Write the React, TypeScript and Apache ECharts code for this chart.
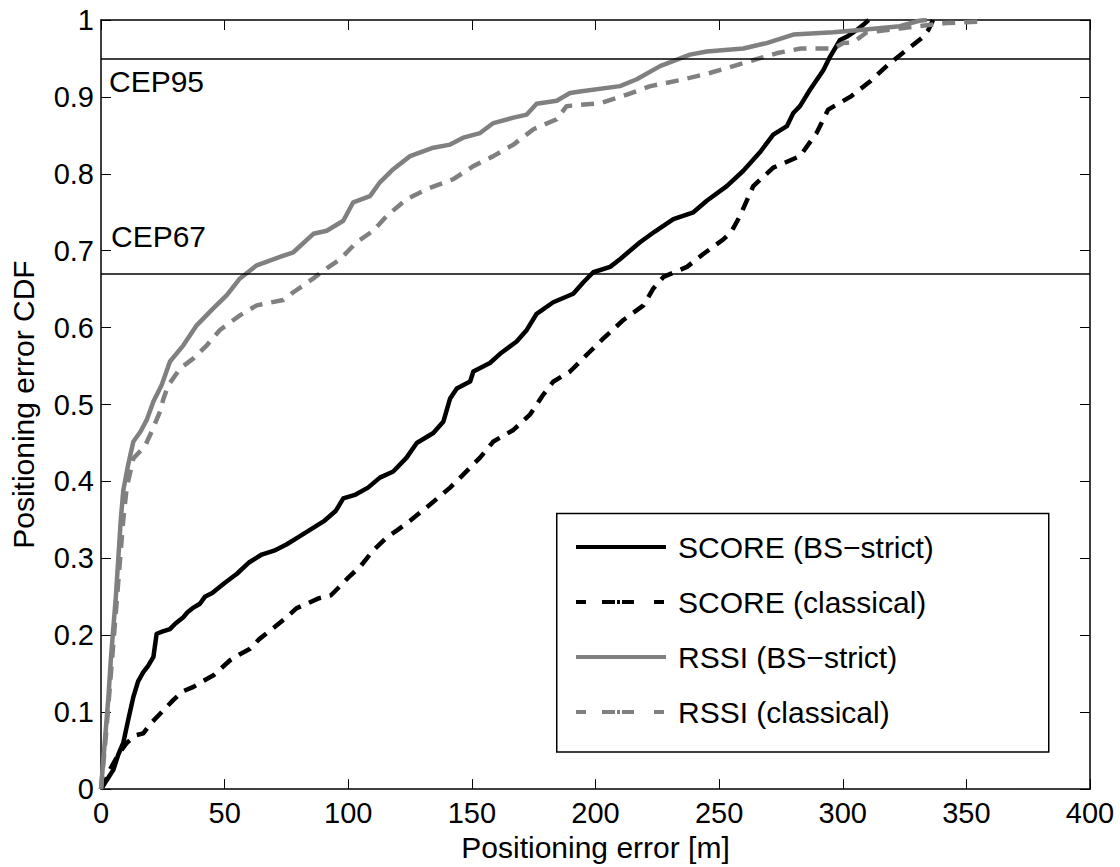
import React, { useEffect, useRef } from "react";
import * as echarts from "echarts";

const FONT = "'Liberation Sans', Arial, Helvetica, sans-serif";

const seriesNames = [
  "SCORE (BS\u2212strict)",
  "SCORE (classical)",
  "RSSI (BS\u2212strict)",
  "RSSI (classical)",
];

const X_MIN = 0;
const X_MAX = 400;
const X_STEP = 50;
const Y_MIN = 0;
const Y_MAX = 1;
const Y_STEP = 0.1;

const xTitle = "Positioning error [m]";
const yTitle = "Positioning error CDF";

const cepLevels = [0.95, 0.67];
const cepLabels = ["CEP95", "CEP67"];

const scoreStrict = [
  [0, 0], [1, 0.005], [3, 0.015], [5, 0.025], [7, 0.045], [9, 0.06], [11, 0.09], [13.1, 0.12],
  [15, 0.14], [17.1, 0.152], [19, 0.16], [21.2, 0.172], [22.5, 0.202], [25, 0.205], [27.9, 0.208],
  [30, 0.215], [33.3, 0.2235], [35, 0.23], [37.4, 0.236], [40, 0.241], [42, 0.25], [45, 0.255],
  [50, 0.268], [55, 0.28], [60, 0.295], [65, 0.305], [70, 0.31], [75, 0.318], [80, 0.328],
  [85, 0.338], [90, 0.348], [95, 0.362], [98, 0.378], [103, 0.383], [108, 0.392], [112.8, 0.405],
  [118.2, 0.413], [123.6, 0.431], [127.7, 0.45], [134.4, 0.463], [138.5, 0.478], [141.2, 0.508],
  [143.9, 0.521], [149.3, 0.53], [150.6, 0.543], [157.3, 0.554], [161.4, 0.566], [168.1, 0.582],
  [172.2, 0.597], [176.2, 0.618], [182.9, 0.633], [191, 0.644], [195.1, 0.659], [199.1, 0.672],
  [205.9, 0.679], [209.9, 0.689], [218, 0.711], [224, 0.725], [231.5, 0.741], [239.6, 0.75],
  [245, 0.765], [253.1, 0.784], [259.8, 0.804], [266.5, 0.828], [271.9, 0.851], [277.4, 0.862],
  [280, 0.879], [282.7, 0.888], [286.7, 0.909], [292.2, 0.935], [294.9, 0.9525], [298.9, 0.974],
  [302, 0.979], [305.7, 0.987], [308.4, 0.994], [310.5, 1],
];

const scoreClassical = [
  [0, 0], [2, 0.012], [3.6, 0.025], [7, 0.045], [10.4, 0.06], [14, 0.07], [17.1, 0.0725],
  [20, 0.085], [23.9, 0.098], [29.3, 0.116], [33, 0.127], [37.4, 0.133], [41, 0.14], [45.5, 0.148],
  [52.2, 0.1675], [56, 0.175], [60.3, 0.1825], [64, 0.195], [68.4, 0.206], [75.1, 0.2235],
  [79, 0.235], [83.2, 0.241], [88, 0.248], [93, 0.252], [97, 0.265], [100, 0.275], [105, 0.29],
  [110, 0.31], [115.5, 0.327], [120, 0.337], [125, 0.349], [133.1, 0.37], [141.2, 0.392],
  [146.5, 0.409], [153.3, 0.431], [158.7, 0.452], [166.8, 0.467], [173.5, 0.487], [178.9, 0.513],
  [183, 0.53], [189.7, 0.543], [197.8, 0.569], [203.2, 0.586], [211.3, 0.61], [219.4, 0.629],
  [223.4, 0.651], [227.5, 0.666], [237, 0.679], [243.7, 0.696], [251.8, 0.715], [255, 0.725],
  [258.4, 0.745], [263.8, 0.784], [271.9, 0.808], [277, 0.815], [282.7, 0.823], [289.4, 0.853],
  [294.1, 0.8835], [303, 0.9], [311, 0.92], [318.4, 0.942], [325.8, 0.961], [332.5, 0.978],
  [334.6, 0.987], [336.5, 1],
];

const rssiStrict = [
  [0, 0], [1, 0.04], [2, 0.08], [3, 0.12], [4, 0.17], [5, 0.21], [6, 0.25], [7, 0.3], [8, 0.35],
  [9, 0.388], [11, 0.422], [13.1, 0.452], [16, 0.465], [18.5, 0.48], [21.2, 0.504], [24.5, 0.525],
  [27.9, 0.556], [33.3, 0.577], [38.7, 0.603], [45.4, 0.625], [50.8, 0.642], [56.2, 0.664],
  [63, 0.681], [72.4, 0.692], [77.8, 0.698], [85.9, 0.722], [91.3, 0.726], [98, 0.739],
  [102, 0.763], [108.8, 0.771], [112.8, 0.789], [118.2, 0.806], [125, 0.823], [134.4, 0.834],
  [141.2, 0.838], [146.5, 0.847], [153.3, 0.853], [158.7, 0.866], [166.8, 0.873], [172.2, 0.877],
  [176.2, 0.891], [184.3, 0.895], [189.7, 0.905], [193.7, 0.907], [209.9, 0.914], [216.7, 0.923],
  [226.1, 0.94], [238.2, 0.955], [245, 0.959], [259.8, 0.963], [269.2, 0.97], [280, 0.981],
  [296.2, 0.984], [307, 0.987], [323.1, 0.992], [331, 0.999], [334, 1],
];

const rssiClassical = [
  [0, 0], [1, 0.035], [2, 0.07], [3, 0.11], [4, 0.15], [5, 0.19], [6, 0.23], [7, 0.27], [8, 0.31],
  [9, 0.35], [10.4, 0.392], [13.1, 0.43], [17.8, 0.446], [20.5, 0.465], [23.9, 0.491], [25.3, 0.508],
  [27.2, 0.525], [32, 0.547], [37.4, 0.56], [42.8, 0.577], [48.1, 0.597], [56.2, 0.616], [63, 0.629],
  [73.7, 0.636], [77.8, 0.646], [85.9, 0.664], [89.9, 0.674], [96.7, 0.689], [103.4, 0.711],
  [110.1, 0.726], [115.5, 0.745], [123.6, 0.767], [131.7, 0.78], [142.5, 0.793], [150.6, 0.81],
  [158.7, 0.823], [166.8, 0.838], [174.9, 0.858], [184.3, 0.871], [188.3, 0.888], [202, 0.892],
  [212.7, 0.903], [222.2, 0.914], [234.3, 0.922], [245, 0.93], [255.8, 0.94], [264, 0.948],
  [273.5, 0.957], [283, 0.963], [296.2, 0.963], [300.2, 0.97], [304.3, 0.971], [309.7, 0.984],
  [323.1, 0.989], [342, 0.996], [355.5, 0.998], [357, 1],
];

const seriesData = [scoreStrict, scoreClassical, rssiStrict, rssiClassical];
const seriesColors = ["#000000", "#000000", "#808080", "#808080"];
const DASH = [13, 9];
const LEGEND_DASH = [10, 16, 13, 2, 3, 2, 12, 20];
const seriesDashed = [false, true, false, true];

export default function App() {
  const ref = useRef<HTMLDivElement>(null);

  useEffect(() => {
    document.body.style.margin = "0";
    if (!ref.current) return;
    const chart = echarts.init(ref.current, undefined, { renderer: "svg" });

    const axisLine = { show: true, onZero: false, lineStyle: { color: "#000", width: 1.5 } };
    const tickIn = { show: true, inside: true, length: 10, lineStyle: { color: "#000", width: 1 } };
    const tickFont = { fontSize: 29, color: "#000", fontFamily: FONT };
    const bigFont = { fontSize: 30, color: "#000", fontFamily: FONT };

    const series: any[] = seriesData.map((d, i) => ({
      name: seriesNames[i],
      type: "line",
      data: d,
      symbol: "none",
      showSymbol: false,
      silent: true,
      lineStyle: {
        color: seriesColors[i],
        width: 4.5,
        type: seriesDashed[i] ? DASH : "solid",
        cap: "butt",
        join: "round",
      },
      itemStyle: { color: seriesColors[i] },
    }));

    series[0].markLine = {
      silent: true,
      symbol: ["none", "none"],
      animation: false,
      lineStyle: { color: "#000", width: 1.5, type: "solid" },
      data: cepLevels.map((v, i) => ({
        yAxis: v,
        label: {
          show: true,
          formatter: cepLabels[i],
          position: i === 0 ? "insideStartBottom" : "insideStartTop",
          distance: i === 0 ? [8, 8] : [10, 22],
          ...bigFont,
        },
      })),
    };

    chart.setOption({
      animation: false,
      textStyle: { fontFamily: FONT },
      grid: { left: 101, right: 30, top: 20, bottom: 74.3, containLabel: false },
      xAxis: [
        {
          type: "value", min: X_MIN, max: X_MAX, interval: X_STEP, position: "bottom",
          axisLine, axisTick: tickIn, splitLine: { show: false },
          axisLabel: { ...tickFont, margin: 9 },
          name: xTitle, nameLocation: "middle", nameGap: 42,
          nameTextStyle: { ...bigFont },
        },
        {
          type: "value", min: X_MIN, max: X_MAX, interval: X_STEP, position: "top",
          axisLine, axisTick: tickIn, splitLine: { show: false }, axisLabel: { show: false },
        },
      ],
      yAxis: [
        {
          type: "value", min: Y_MIN, max: Y_MAX, interval: Y_STEP, position: "left",
          axisLine, axisTick: tickIn, splitLine: { show: false },
          axisLabel: { ...tickFont, margin: 7 },
          name: yTitle, nameLocation: "middle", nameGap: 63, nameRotate: 90,
          nameTextStyle: { ...bigFont },
        },
        {
          type: "value", min: Y_MIN, max: Y_MAX, interval: Y_STEP, position: "right",
          axisLine, axisTick: tickIn, splitLine: { show: false }, axisLabel: { show: false },
        },
      ],
      legend: {
        orient: "vertical",
        left: 574,
        top: 531,
        padding: 0,
        itemWidth: 90,
        itemHeight: 14,
        itemGap: 23,
        selectedMode: false,
        itemStyle: { opacity: 0 },
        textStyle: { ...bigFont, lineHeight: 32, padding: [0, 0, 0, 7] },
        data: seriesNames.map((n, i) => ({
          name: n,
          lineStyle: {
            color: seriesColors[i],
            width: 4,
            type: seriesDashed[i] ? LEGEND_DASH : "solid",
          },
        })),
      },
      graphic: [
        {
          type: "rect",
          left: 556,
          top: 512.7,
          z: 1,
          shape: { width: 492, height: 238.5 },
          style: { fill: "#fff", stroke: "#000", lineWidth: 1.5 },
          silent: true,
        },
      ],
      series,
    });

    return () => chart.dispose();
  }, []);

  return <div ref={ref} style={{ width: 1120, height: 867 }} />;
}
